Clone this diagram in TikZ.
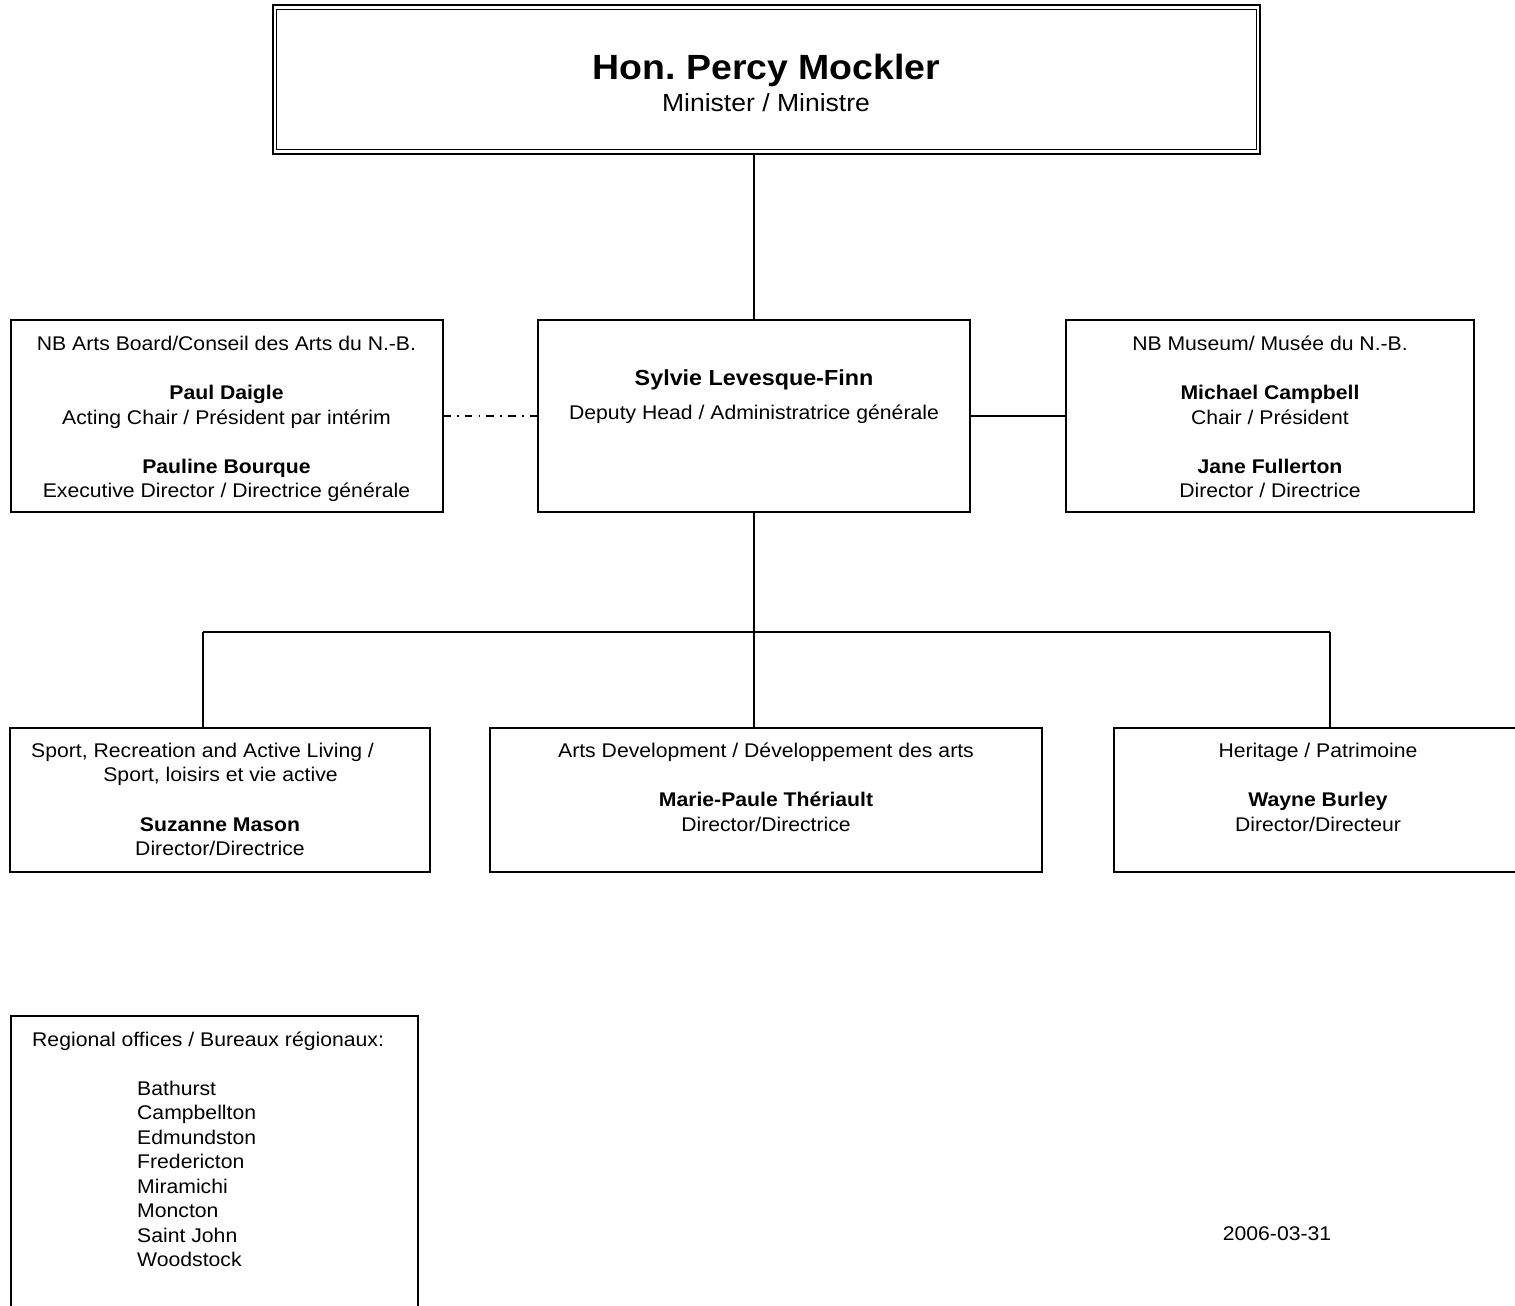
\documentclass[tikz,border=0pt]{standalone}
\usepackage{fontspec}
\setmainfont[FakeStretch=1.07]{Liberation Sans}
\usetikzlibrary{calc}
\begin{document}
\frenchspacing
\begin{tikzpicture}[x=1pt,y=-1pt,
  box/.style={draw, line width=1.3pt, inner sep=0pt, outer sep=0pt},
  conn/.style={line width=1.3pt},
  txt/.style={inner sep=0pt, anchor=base, font=\fontsize{19.8}{24.5}\selectfont},
  btxt/.style={inner sep=0pt, anchor=base, font=\fontsize{19.8}{24.5}\selectfont\bfseries},
  dashdot/.style={line width=1.5pt, dash pattern=on 7.5pt off 6.5pt on 1.5pt off 6.2pt}
]
\useasboundingbox (0,0) rectangle (1515,1306);
\clip (0,0) rectangle (1515,1306);

% boxes
\node[box, line width=2pt, minimum width=987pt, minimum height=148pt] (top) at (766.5,79.5) {};
\node[box, line width=1.4pt, minimum width=980pt, minimum height=140pt] (topin) at (766.5,79.5) {};
\node[box, minimum width=432pt, minimum height=192pt] (dep) at (754,416) {};
\node[box, minimum width=432pt, minimum height=192pt] (arts) at (227,416) {};
\node[box, minimum width=408pt, minimum height=192pt] (mus) at (1270,416) {};
\node[box, minimum width=420pt, minimum height=144pt] (sport) at (220,800) {};
\node[box, minimum width=552pt, minimum height=144pt] (artsdev) at (766,800) {};
\node[box, minimum width=408pt, minimum height=144pt] (herit) at (1318,800) {};
\node[box, minimum width=407pt, minimum height=384pt] (reg) at (214.5,1208) {};

% connectors
\draw[conn] (dep.north) -- (dep.north |- top.south);
\draw[dashdot] (arts.east) -- (dep.west);
\draw[conn] (dep.east) -- (mus.west);
\coordinate (jl) at (203,632);
\coordinate (jr) at (1330,632);
\draw[conn] (dep.south) -- (dep.south |- artsdev.north);
\draw[conn] (jl) -- (jr);
\draw[conn] (jl) -- (jl |- sport.north);
\draw[conn] (jr) -- (jr |- herit.north);

% top texts
\node[txt, font=\fontsize{35}{40}\selectfont\bfseries] (tname) at (766.5,79.3) {Hon.\ Percy Mockler};
\node[txt, font=\fontsize{24.8}{28}\selectfont] (trole) at (766,111.7) {Minister / Ministre};

% deputy
\node[btxt, font=\fontsize{21.8}{25}\selectfont\bfseries] (dname) at (754,385) {Sylvie Levesque-Finn};
\node[txt] (drole) at (754,419) {Deputy Head / Administratrice générale};

% arts board
\node[txt] (a1) at (226.5,350) {NB Arts Board/Conseil des Arts du N.-B.};
\node[btxt] (a2) at (226.5,399) {Paul Daigle};
\node[txt] (a3) at (226.5,424) {Acting Chair / Président par intérim};
\node[btxt] (a4) at (226.5,473) {Pauline Bourque};
\node[txt] (a5) at (226.5,497.5) {Executive Director / Directrice générale};

% museum
\node[txt] (m1) at (1270,350) {NB Museum/ Musée du N.-B.};
\node[btxt] (m2) at (1270,399) {Michael Campbell};
\node[txt] (m3) at (1270,424) {Chair / Président};
\node[btxt] (m4) at (1270,473) {Jane Fullerton};
\node[txt] (m5) at (1270,497.5) {Director / Directrice};

% sport
\node[txt, anchor=base west] (s1) at (31,757) {Sport, Recreation and Active Living /};
\node[txt] (s2) at (220.5,781.5) {Sport, loisirs et vie active};
\node[btxt] (s3) at (220,831) {Suzanne Mason};
\node[txt] (s4) at (220,855.5) {Director/Directrice};

% arts development
\node[txt] (d1) at (766,757) {Arts Development / Développement des arts};
\node[btxt] (d2) at (766,806.5) {Marie-Paule Thériault};
\node[txt] (d3) at (766,831) {Director/Directrice};

% heritage
\node[txt] (h1) at (1318,757) {Heritage / Patrimoine};
\node[btxt] (h2) at (1318,806.5) {Wayne Burley};
\node[txt] (h3) at (1318,831) {Director/Directeur};

% regional offices
\node[txt, anchor=base west] (r0) at (32,1046) {Regional offices / Bureaux régionaux:};
\foreach \cname [count=\i from 0] in {Bathurst,Campbellton,Edmundston,Fredericton,Miramichi,Moncton,Saint John,Woodstock}
  \node[txt, anchor=base west] (city\i) at (137,{1095+24.5*\i}) {\cname};

% date
\node[txt] (date) at (1277,1240) {2006-03-31};
\end{tikzpicture}
\end{document}
